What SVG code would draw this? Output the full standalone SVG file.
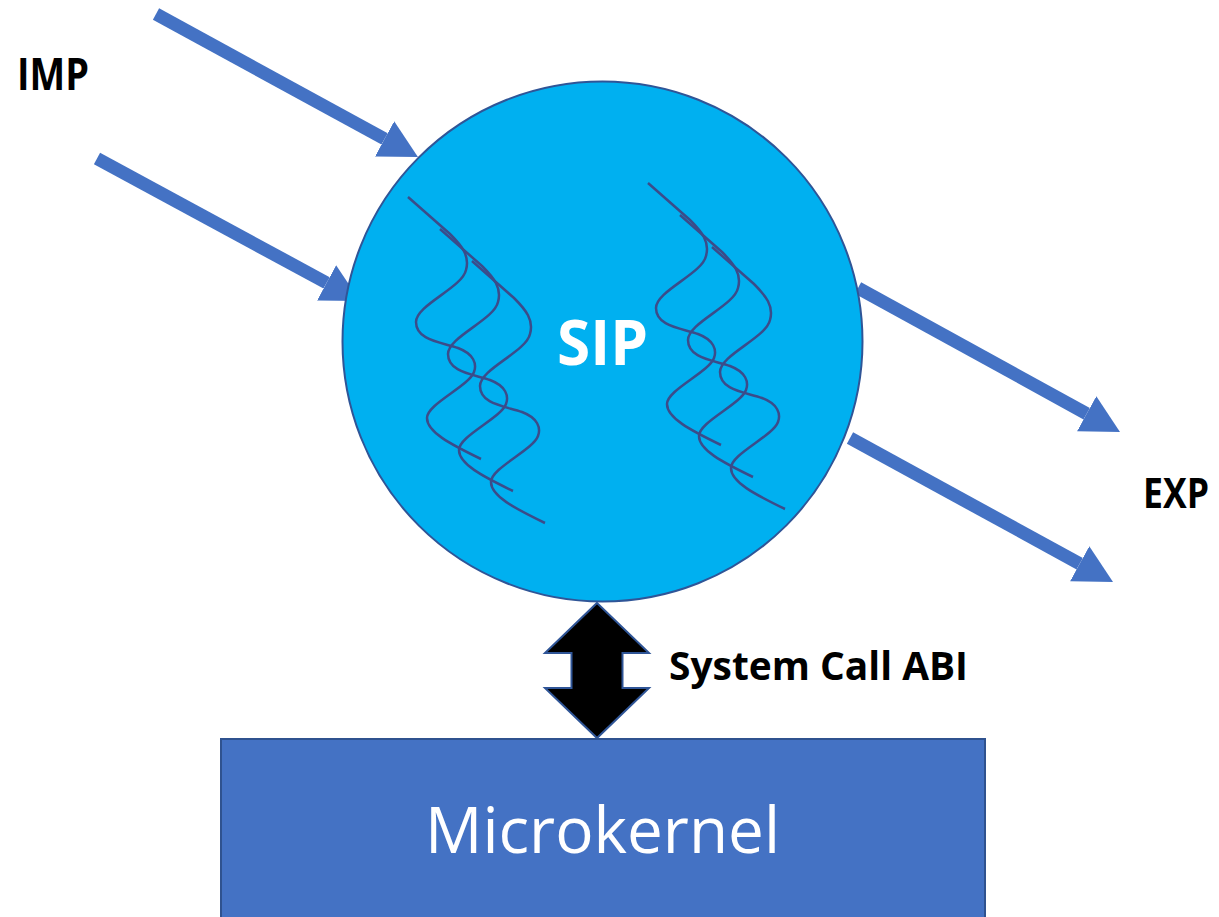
<svg xmlns="http://www.w3.org/2000/svg" xmlns:xlink="http://www.w3.org/1999/xlink" width="1219" height="917" viewBox="0 0 1219 917">
  <style>
    .lbl { font-family: "Open Sans", "Noto Sans", "Liberation Sans", sans-serif; }
    .bold { font-weight: bold; }
    .flow { stroke: #4472C4; stroke-width: 13; fill: none; marker-end: url(#head); }
    .thread { fill: none; stroke: #3B4C8A; stroke-width: 2.5; stroke-linecap: butt; }
  </style>
  <defs>
    <marker id="head" markerUnits="userSpaceOnUse" viewBox="0 -21 39 42" refX="0" refY="0" markerWidth="39" markerHeight="42" orient="auto">
      <path d="M0,-20 L38,0 L0,20 Z" fill="#4472C4"/>
    </marker>
    <path id="wave" class="thread" d="M408,197 L450,234 C462,246 470,256 466,270 C462,288 416,305 416,322 C416,340 440,342 458,348 C474,354 477,364 474,372 C469,386 427,404 427,418 C427,432 450,444 481,459"/>
  </defs>

  <!-- import / export flows -->
  <g id="connectors">
    <line class="flow" x1="156" y1="14" x2="384.6" y2="138.9"/>
    <line class="flow" x1="97" y1="158.5" x2="326.6" y2="282.9"/>
    <line class="flow" x1="858" y1="288" x2="1086.7" y2="413.7"/>
    <line class="flow" x1="850" y1="438" x2="1079.7" y2="563.7"/>
    <!-- system call interface -->
    <polygon id="abi-arrow" points="597,603 649,653 622.5,653 622.5,688 649,688 597,738 545,688 571.5,688 571.5,653 545,653" fill="#000000" stroke="#2F5597" stroke-width="2" stroke-linejoin="miter"/>
  </g>

  <!-- process -->
  <g id="sip">
    <circle cx="602.5" cy="341.5" r="260" fill="#00B0F0" stroke="#2F5597" stroke-width="2"/>
    <g id="threads-left">
      <use xlink:href="#wave"/>
      <use xlink:href="#wave" transform="translate(32,32)"/>
      <use xlink:href="#wave" transform="translate(64,64)"/>
    </g>
    <g id="threads-right" transform="translate(240,-14)">
      <use xlink:href="#wave"/>
      <use xlink:href="#wave" transform="translate(32,32)"/>
      <use xlink:href="#wave" transform="translate(64,64)"/>
    </g>
    <text class="lbl bold" x="557" y="365" font-size="62" fill="#FFFFFF" textLength="91" lengthAdjust="spacingAndGlyphs">SIP</text>
  </g>

  <!-- kernel -->
  <g id="microkernel">
    <rect x="221" y="739" width="764" height="200" fill="#4472C4" stroke="#2F528F" stroke-width="2"/>
    <text class="lbl" x="425" y="853" font-size="64" fill="#FFFFFF" textLength="355" lengthAdjust="spacingAndGlyphs">Microkernel</text>
  </g>

  <!-- labels -->
  <g id="labels">
    <text class="lbl bold" x="17" y="90" font-size="44" fill="#000000" textLength="72" lengthAdjust="spacingAndGlyphs">IMP</text>
    <text class="lbl bold" x="1143" y="508" font-size="42" fill="#000000" textLength="66" lengthAdjust="spacingAndGlyphs">EXP</text>
    <text class="lbl bold" x="669" y="680" font-size="39" fill="#000000" textLength="299" lengthAdjust="spacingAndGlyphs">System Call ABI</text>
  </g>
</svg>
